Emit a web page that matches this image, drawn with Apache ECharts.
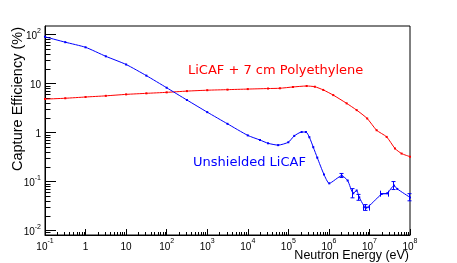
<!DOCTYPE html>
<html><head><meta charset="utf-8">
<script src="https://cdn.jsdelivr.net/npm/echarts@6/dist/echarts.min.js"></script>
<style>html,body{margin:0;padding:0;background:#fff}#c{width:457px;height:263px}</style>
</head><body><div id="c"></div>
<script>
// Unshielded LiCAF
var unshieldedE   = [0.1, 0.316, 1, 3.16, 10, 31.6, 100, 316, 1000, 3162, 1e4, 2e4, 3.16e4, 5.6e4, 1e5, 1.4e5, 2.13e5, 2.72e5, 3.3e5, 4.12e5, 5.17e5, 7.57e5, 1.02e6, 2.07e6, 2.9e6, 3.99e6, 4.84e6, 5.61e6, 8.2e6, 2.0e7, 2.75e7, 4.02e7, 4.86e7, 1e8];
var unshieldedEff = [90, 70, 55, 36, 24.5, 14.5, 8.2, 4.6, 2.6, 1.5, 0.87, 0.7, 0.6, 0.55, 0.63, 0.85, 1.02, 1.02, 0.8, 0.50, 0.305, 0.138, 0.091, 0.13, 0.104, 0.057, 0.065, 0.047, 0.029, 0.055, 0.057, 0.082, 0.070, 0.047];
// LiCAF + 7 cm Polyethylene
var polyE   = [0.1, 0.316, 1, 3.16, 10, 31.6, 100, 316, 1000, 3162, 1e4, 3.16e4, 6.2e4, 1.3e5, 2.83e5, 4.5e5, 7.26e5, 1.28e6, 2.74e6, 4.84e6, 8.8e6, 1.5e7, 2.66e7, 4.26e7, 6.2e7, 1e8];
var polyEff = [4.8, 5.0, 5.3, 5.6, 6.0, 6.3, 6.6, 7.0, 7.3, 7.5, 7.7, 7.9, 8.0, 8.5, 8.9, 8.6, 7.4, 5.8, 3.93, 2.86, 1.93, 1.11, 0.81, 0.47, 0.37, 0.32];
// error bars on the unshielded tail
var errE      = [2.07e6, 3.99e6, 5.61e6, 8.2e6, 2.35e7, 4.02e7, 1e8];
var errEff    = [0.13, 0.057, 0.047, 0.029, 0.056, 0.082, 0.047];
var errELo    = [2.07e6, 3.99e6, 5.61e6, 6.9e6, 1.82e7, 4.02e7, 1e8];
var errEHi    = [2.07e6, 3.99e6, 5.61e6, 1.03e7, 3.0e7, 4.02e7, 1e8];
var errEffLo  = [0.12, 0.046, 0.041, 0.0255, 0.056, 0.068, 0.040];
var errEffHi  = [0.145, 0.071, 0.054, 0.0335, 0.056, 0.099, 0.056];
// axis ticks (decade exponents)
var xTickExp = [-1, 0, 1, 2, 3, 4, 5, 6, 7, 8];
var yTickExp = [-2, -1, 0, 1, 2];
var xMin = 0.1, xMax = 1e8, yMin = 0.008, yMax = 150;

function zip(a, b) { return a.map(function (v, i) { return [v, b[i]]; }); }
function minorTicks(lo, hi) {
  var out = [];
  for (var k = -4; k <= 9; k++) for (var m = 2; m <= 9; m++) {
    var v = m * Math.pow(10, k);
    if (v > lo * 1.0001 && v < hi * 0.9999) out.push(v);
  }
  return out;
}
function fmt(v) {
  var n = Math.round(Math.log10(v));
  if (n === 0) return '{b|1}';
  if (n === 1) return '{b|10}';
  return '{b|10}{s|' + n + '}';
}
var rich = {
  b: { fontSize: 10, fontFamily: 'Liberation Sans', color: '#000', lineHeight: 14, verticalAlign: 'bottom' },
  s: { fontSize: 7, fontFamily: 'Liberation Sans', color: '#000', lineHeight: 7, verticalAlign: 'top' }
};
var chart = echarts.init(document.getElementById('c'), null, { renderer: 'canvas' });
var errData = errE.map(function (v, i) { return [v, errEff[i], errELo[i], errEHi[i], errEffLo[i], errEffHi[i]]; });
chart.setOption({
  animation: false,
  backgroundColor: '#fff',
  grid: { left: 45, right: 47, top: 26, bottom: 28, show: true, borderColor: '#000', borderWidth: 1, backgroundColor: 'transparent' },
  xAxis: {
    type: 'log', logBase: 10, min: xMin, max: xMax, splitNumber: 9,
    axisLine: { show: true, lineStyle: { color: '#000', width: 1 } },
    axisTick: { show: true, inside: true, length: 6, lineStyle: { color: '#000' } },
    splitLine: { show: false },
    axisLabel: { formatter: fmt, rich: rich, margin: 3, showMinLabel: true, showMaxLabel: true,
      customValues: xTickExp.map(function (e) { return Math.pow(10, e); }) }
  },
  yAxis: {
    type: 'log', logBase: 10, min: yMin, max: yMax, splitNumber: 4,
    axisLine: { show: true, lineStyle: { color: '#000', width: 1 } },
    axisTick: { show: true, inside: true, length: 11, lineStyle: { color: '#000' },
      customValues: yTickExp.map(function (e) { return Math.pow(10, e); }) },
    splitLine: { show: false },
    axisLabel: { formatter: fmt, rich: rich, margin: 4,
      customValues: yTickExp.map(function (e) { return Math.pow(10, e); }) }
  },
  graphic: [
    { type: 'text', x: 18, y: 27, rotation: Math.PI / 2,
      style: { text: 'Capture Efficiency (%)', font: '14.5px "Liberation Sans"', fill: '#000', textAlign: 'right', textVerticalAlign: 'middle' } },
    { type: 'text', x: 409, y: 256,
      style: { text: 'Neutron Energy (eV)', font: '12.5px "Liberation Sans"', fill: '#000', textAlign: 'right', textVerticalAlign: 'middle' } },
    { type: 'text', x: 188, y: 71,
      style: { text: 'LiCAF + 7 cm Polyethylene', font: '13px "DejaVu Sans"', fill: '#ff0000', textAlign: 'left', textVerticalAlign: 'middle' } },
    { type: 'text', x: 193, y: 163,
      style: { text: 'Unshielded LiCAF', font: '13px "DejaVu Sans"', fill: '#0000ff', textAlign: 'left', textVerticalAlign: 'middle' } }
  ],
  series: [
    { type: 'line', data: zip(polyE, polyEff), symbol: 'rect', symbolSize: 2, showAllSymbol: true, smooth: 0.2,
      lineStyle: { color: '#ff0000', width: 1 }, itemStyle: { color: '#ff0000' }, z: 3 },
    { type: 'line', data: zip(unshieldedE, unshieldedEff), symbol: 'rect', symbolSize: 2, showAllSymbol: true, smooth: 0.2,
      lineStyle: { color: '#0000ff', width: 1 }, itemStyle: { color: '#0000ff' }, z: 4 },
    { type: 'custom', data: errData, z: 5, silent: true,
      renderItem: function (params, api) {
        var x = api.value(0), y = api.value(1), xl = api.value(2), xh = api.value(3), yl = api.value(4), yh = api.value(5);
        var ch = [], st = { stroke: '#0000ff', lineWidth: 1 };
        if (xl !== xh) {
          var a = api.coord([xl, y]), b = api.coord([xh, y]);
          ch.push({ type: 'line', shape: { x1: a[0], y1: a[1], x2: b[0], y2: b[1] }, style: st });
          ch.push({ type: 'line', shape: { x1: Math.round(a[0]) + 0.5, y1: a[1] - 3, x2: Math.round(a[0]) + 0.5, y2: a[1] + 3 }, style: st });
          ch.push({ type: 'line', shape: { x1: Math.round(b[0]) - 0.5, y1: b[1] - 3, x2: Math.round(b[0]) - 0.5, y2: b[1] + 3 }, style: st });
        }
        if (yl !== yh) {
          var c = api.coord([x, yl]), d = api.coord([x, yh]);
          var cx = Math.round(c[0]) - 0.5;
          ch.push({ type: 'line', shape: { x1: cx, y1: c[1], x2: cx, y2: d[1] }, style: st });
          ch.push({ type: 'line', shape: { x1: cx - 2, y1: c[1], x2: cx + 2, y2: c[1] }, style: st });
          ch.push({ type: 'line', shape: { x1: cx - 2, y1: d[1], x2: cx + 2, y2: d[1] }, style: st });
        }
        return { type: 'group', children: ch };
      } },
    { type: 'custom', data: minorTicks(xMin, xMax).map(function (v) { return [v, yMin]; }), z: 2, silent: true,
      renderItem: function (params, api) {
        var p = api.coord([api.value(0), api.value(1)]);
        var px = Math.round(p[0]) + 0.5;
        return { type: 'line', shape: { x1: px, y1: p[1], x2: px, y2: p[1] - 3 }, style: { stroke: '#000', lineWidth: 1 } };
      } },
    { type: 'custom', data: minorTicks(yMin, yMax).map(function (v) { return [xMin, v]; }), z: 2, silent: true,
      renderItem: function (params, api) {
        var p = api.coord([api.value(0), api.value(1)]);
        var py = Math.round(p[1]) + 0.5;
        return { type: 'line', shape: { x1: p[0], y1: py, x2: p[0] + 5.5, y2: py }, style: { stroke: '#000', lineWidth: 1 } };
      } }
  ]
});
</script>
</body></html>
